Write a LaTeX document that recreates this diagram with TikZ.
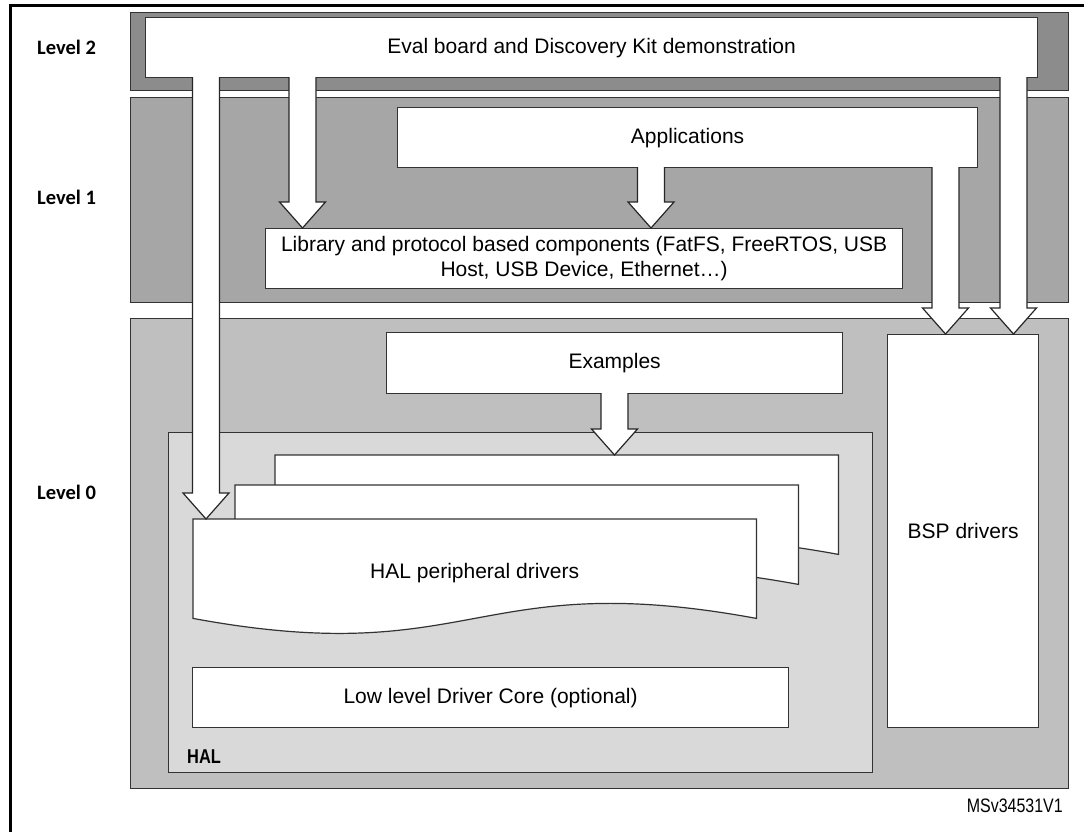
\documentclass[tikz,border=0pt]{standalone}
\usepackage{fontspec}
\setmainfont{Liberation Sans}
\newfontfamily\calibrifont{Carlito}
\newfontfamily\narrowfont{Liberation Sans}[FakeStretch=0.82]
\usetikzlibrary{calc}
\usetikzlibrary{positioning}

\definecolor{levelTwo}{HTML}{8C8C8C}
\definecolor{levelOne}{HTML}{A6A6A6}
\definecolor{levelZero}{HTML}{BFBFBF}
\definecolor{halGray}{HTML}{D9D9D9}
\definecolor{edgeGray}{HTML}{333333}

\newcommand{\pageoutline}[1]{%
    \draw[pageline] (#1.north west) -- (#1.north east) -- (#1.south east)
    .. controls ($(#1.south)+(0,-52)$) and ($(#1.south)+(0,52)$) ..
    (#1.south west) -- cycle;}

\newcommand{\fatarrow}[3]{%
    \coordinate (ax) at (#1,0);
    \draw[fatarrow] ($(#2.south -| ax)+(-13.5,-1)$) --
    ($(#3.north -| ax)+(-13.5,-26)$) -- ++(-9.5,0) -- (#3.north -| ax)
    -- ($(#3.north -| ax)+(23,-26)$) -- ++(-9.5,0) --
    ($(#2.south -| ax)+(13.5,-1)$);}

\begin{document}
\begin{tikzpicture}[x=1pt,y=-1pt]
        \tikzstyle{band}=[draw=edgeGray, line width=1.2pt,
            anchor=north west, inner sep=0pt]
        \tikzstyle{box}=[draw=edgeGray, line width=1.2pt, fill=white,
            anchor=north west, inner sep=0pt, align=center,
            font=\fontsize{21}{25}\selectfont]
        \tikzstyle{pagebox}=[anchor=north west, inner sep=0pt,
            minimum width=563pt, minimum height=99pt]
        \tikzstyle{pageline}=[draw=edgeGray, line width=1.2pt, fill=white]
        \tikzstyle{fatarrow}=[draw=black!85, line width=1.2pt, fill=white,
            line join=miter]
        \tikzstyle{level}=[anchor=west, inner sep=0pt,
            font=\calibrifont\bfseries\fontsize{20.5}{24}\selectfont]

            \useasboundingbox (0,0) rectangle (1084,832);
            \draw[line width=2.5pt] (10.5,832) -- (10.5,5.5) -- (1084,5.5);

            \node[band, fill=levelTwo, minimum width=938pt,
            minimum height=78pt] (band2) at (130,12) {};
            \node[band, fill=levelOne, minimum width=938pt,
            minimum height=205pt] (band1) at (130,97) {};
            \node[band, fill=levelZero, minimum width=938pt,
            minimum height=470pt] (band0) at (130,318) {};

            \foreach \n/\y in {2/47, 1/197, 0/492}
            {
                \node[level] (level\n) at (37,\y) {Level \n};
            }

            \node[box, minimum width=892pt, minimum height=60pt] (eval)
            at (145,17) {Eval board and Discovery Kit demonstration};
            \node[box, minimum width=580pt, minimum height=60pt] (apps)
            at (397,107) {Applications};
            \node[box, minimum width=637pt, minimum height=60pt] (lib)
            at (265,228) {Library and protocol based components (FatFS,
            FreeRTOS, USB\\Host, USB Device, Ethernet\ldots)};

            \node[band, fill=halGray, minimum width=704pt,
            minimum height=340pt] (hal) at (168,432) {};
            \node[box, minimum width=456pt, minimum height=61pt]
            (examples) at (386,332) {Examples};
            \node[box, minimum width=151pt, minimum height=393pt] (bsp)
            at (887,334) {BSP drivers};

            \foreach \i/\px/\py in {3/275/455, 2/235/485, 1/193/519}
            {
                \node[pagebox] (hal\i) at (\px,\py) {};
                \pageoutline{hal\i}
            }
            \node[font=\fontsize{21}{25}\selectfont] (haltext)
            at ($(hal1.center)+(0,4)$) {HAL peripheral drivers};

            \node[box, minimum width=596pt, minimum height=60pt] (core)
            at (192,667) {Low level Driver Core (optional)};
            \node[anchor=west, inner sep=0pt,
            font=\narrowfont\bfseries\fontsize{20}{24}\selectfont]
            (hallabel) at (187,757) {HAL};

            \foreach \x/\from/\to in {206/eval/hal1, 302.5/eval/lib,
            651/apps/lib, 945.5/apps/bsp, 1013.5/eval/bsp,
            614.5/examples/hal3}
            {
                \fatarrow{\x}{\from}{\to}
            }

            \node[anchor=east, inner sep=0pt,
            font=\narrowfont\fontsize{19.5}{23}\selectfont] (msv)
            at (1063,806) {MSv34531V1};
    \end{tikzpicture}
\end{document}
